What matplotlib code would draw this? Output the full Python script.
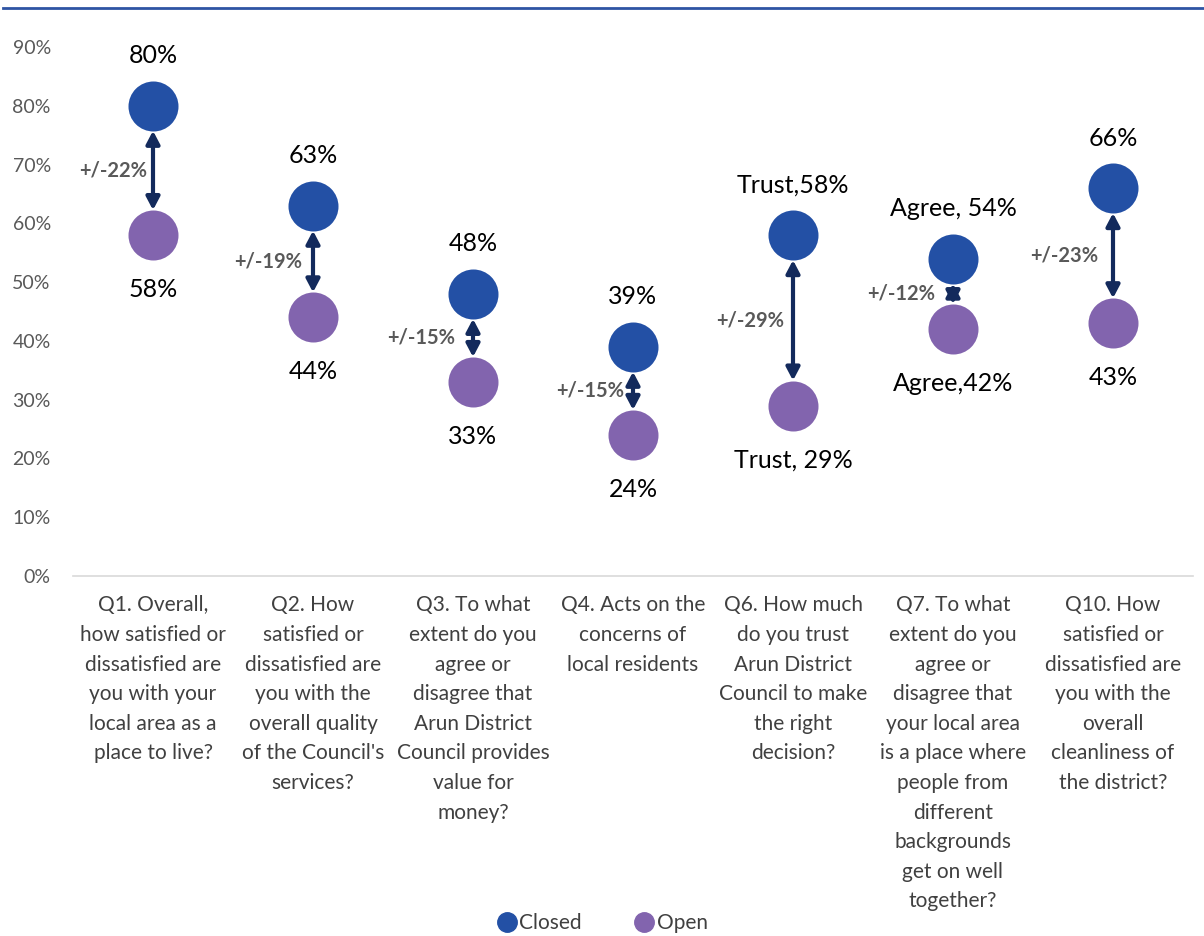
import numpy as np
import matplotlib.pyplot as plt
from matplotlib.lines import Line2D

plt.rcParams['font.family'] = ['Lato', 'DejaVu Sans']

# data
questions = [
    "Q1. Overall,\nhow satisfied or\ndissatisfied are\nyou with your\nlocal area as a\nplace to live?",
    "Q2. How\nsatisfied or\ndissatisfied are\nyou with the\noverall quality\nof the Council's\nservices?",
    "Q3. To what\nextent do you\nagree or\ndisagree that\nArun District\nCouncil provides\nvalue for\nmoney?",
    "Q4. Acts on the\nconcerns of\nlocal residents",
    "Q6. How much\ndo you trust\nArun District\nCouncil to make\nthe right\ndecision?",
    "Q7. To what\nextent do you\nagree or\ndisagree that\nyour local area\nis a place where\npeople from\ndifferent\nbackgrounds\nget on well\ntogether?",
    "Q10. How\nsatisfied or\ndissatisfied are\nyou with the\noverall\ncleanliness of\nthe district?",
]
closed = [80, 63, 48, 39, 58, 54, 66]
open_ = [58, 44, 33, 24, 29, 42, 43]
closed_labels = ["80%", "63%", "48%", "39%", "Trust,58%", "Agree, 54%", "66%"]
open_labels = ["58%", "44%", "33%", "24%", "Trust, 29%", "Agree,42%", "43%"]
diff_labels = ["+/-22%", "+/-19%", "+/-15%", "+/-15%", "+/-29%", "+/-12%", "+/-23%"]
yticks = [0, 10, 20, 30, 40, 50, 60, 70, 80, 90]

# label nudges (px), left of each arrow
diff_dx = [-6, -11, -18, -9, -9, -18, -15]

c_closed = '#2350A5'
c_open = '#8264AE'
c_arrow = '#132A5C'

fig = plt.figure(figsize=(12.04, 9.36), dpi=100)
ax = fig.add_axes([73/1204, 1-576/936, 1120/1204, (576-47)/936])

x = np.arange(len(questions))
ax.set_xlim(-0.5, len(questions)-0.5)
ax.set_ylim(0, 90)

ax.scatter(x, closed, s=36**2, color=c_closed, zorder=3, clip_on=False, linewidths=0)
ax.scatter(x, open_, s=36**2, color=c_open, zorder=3, clip_on=False, linewidths=0)

for i in range(len(x)):
    ax.annotate('', xy=(x[i], open_[i]), xytext=(x[i], closed[i]),
                arrowprops=dict(arrowstyle='<|-|>,head_length=0.38,head_width=0.2',
                                color=c_arrow, lw=3, shrinkA=18, shrinkB=18,
                                mutation_scale=20))
    ax.annotate(closed_labels[i], (x[i], closed[i]), xytext=(0, 36),
                textcoords='offset points', ha='center', va='center',
                fontsize=18, color='black')
    ax.annotate(open_labels[i], (x[i], open_[i]), xytext=(0, -39),
                textcoords='offset points', ha='center', va='center',
                fontsize=18, color='black')
    ax.annotate(diff_labels[i], (x[i], (closed[i]+open_[i])/2),
                xytext=(diff_dx[i]*0.72, 0),
                textcoords='offset points', ha='right', va='center',
                fontsize=14.5, fontweight='bold', color='#595959')

ax.set_yticks(yticks)
ax.set_yticklabels([f"{t}%" for t in yticks], fontsize=14, color='#595959')
ax.set_xticks(x)
ax.set_xticklabels(questions, fontsize=15, color='#404040', linespacing=1.6, va='top')
ax.tick_params(axis='both', length=0)
ax.tick_params(axis='y', pad=16)
ax.tick_params(axis='x', pad=14)

for s in ['top', 'right', 'left']:
    ax.spines[s].set_visible(False)
ax.spines['bottom'].set_color('#D9D9D9')
ax.spines['bottom'].set_linewidth(1.2)

# top border line
fig.add_artist(Line2D([3/1204, 1], [1-8/936, 1-8/936], color='#2E54A4', lw=2,
                      transform=fig.transFigure))

handles = [Line2D([], [], marker='o', ls='', markersize=14, color=c_closed),
           Line2D([], [], marker='o', ls='', markersize=14, color=c_open)]
fig.legend(handles, ['Closed', 'Open'], loc='center', bbox_to_anchor=(0.5, 1-923/936),
           ncol=2, frameon=False, fontsize=15, handletextpad=0.1, columnspacing=2.5,
           handlelength=1.0, labelcolor='#404040')

fig.savefig('out.png', dpi=100)
